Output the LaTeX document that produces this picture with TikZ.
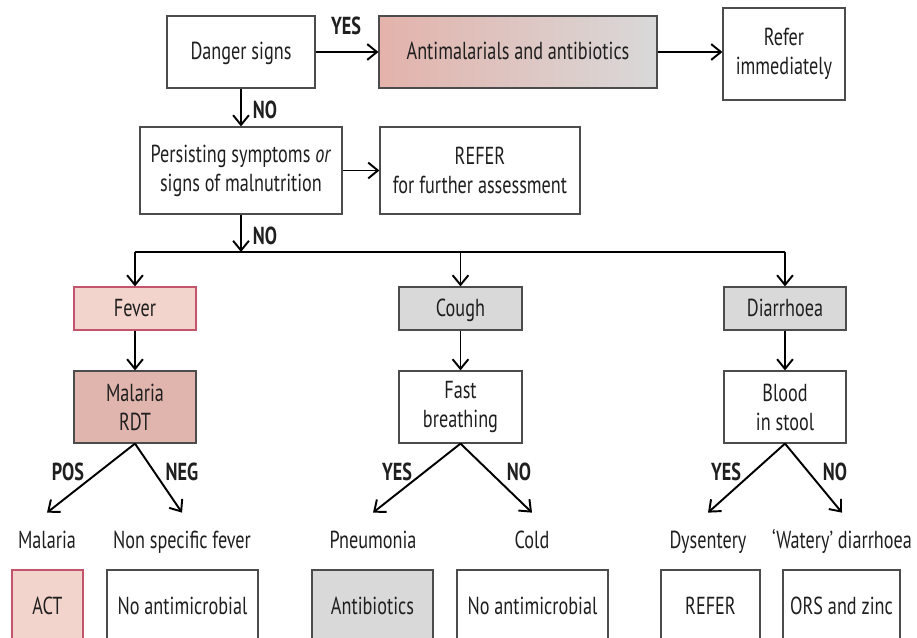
\documentclass[tikz,border=0pt]{standalone}
\usepackage{fontspec}
\setmainfont[FakeStretch=0.74]{PT Sans}
\usetikzlibrary{arrows.meta,calc}
\definecolor{FeverClr}{rgb}{0.95,0.83,0.80}
\definecolor{FeverLineClr}{rgb}{0.76,0.33,0.42}
\definecolor{RdtClr}{rgb}{0.88,0.71,0.68}
\definecolor{AntiClr}{rgb}{0.89,0.70,0.67}
\definecolor{CoughClr}{rgb}{0.85,0.85,0.85}
\definecolor{BoxLineClr}{rgb}{0.3,0.3,0.3}
\definecolor{TextClr}{rgb}{0.12,0.12,0.12}

\begin{document}
\begin{tikzpicture}[x=0.02cm,y=-0.02cm,
  font=\fontsize{14}{16.5}\selectfont,text=TextClr,
  box/.style={draw=BoxLineClr,line width=0.7pt,fill=white,align=center,inner sep=2pt},
  single/.style={text height=12pt,text depth=3pt},
  arr/.style={-{Straight Barb[length=5.5pt,width=9pt]},line width=1.1pt},
  lbl/.style={font=\fontsize{14}{16.5}\selectfont\bfseries},
  outcome/.style={single,minimum height=1.12cm,inner sep=0pt}]
\useasboundingbox (0,0) rectangle (917,638);
\clip (0,0) rectangle (917,638);

\node[box,single,minimum width=2.96cm,minimum height=1.44cm] (danger) at (241,52) {Danger signs};
\node[box,single,left color=AntiClr,right color=CoughClr,minimum width=5.56cm,minimum height=1.44cm] (anti) at (518,52) {Antimalarials and antibiotics};
\node[box,minimum width=2.44cm,minimum height=1.84cm] (refimm) at (784,54) {Refer\\immediately};

\node[box,minimum width=4.04cm,minimum height=1.74cm] (persist) at (241,170.5) {Persisting symptoms \emph{or}\\signs of malnutrition};
\node[box,minimum width=4.0cm,minimum height=1.74cm] (refer) at (480,170.5) {REFER\\for further assessment};

\node[box,single,fill=FeverClr,draw=FeverLineClr,minimum width=2.44cm,minimum height=0.86cm] (fever) at (135,308.5) {Fever};
\node[box,fill=RdtClr,minimum width=2.44cm,minimum height=1.44cm] (rdt) at (135,407) {Malaria\\RDT};
\node[box,single,fill=CoughClr,minimum width=2.46cm,minimum height=0.86cm] (cough) at (460.5,308.5) {Cough};
\node[box,minimum width=2.46cm,minimum height=1.44cm] (fast) at (460.5,407) {Fast\\breathing};
\node[box,single,fill=CoughClr,minimum width=2.44cm,minimum height=0.86cm] (diarr) at (785,308.5) {Diarrhoea};
\node[box,minimum width=2.44cm,minimum height=1.44cm] (blood) at (785,407) {Blood\\in stool};

\node[outcome] (malaria) at (47,541) {Malaria};
\node[outcome] (nsfever) at (182,541) {Non specific fever};
\node[outcome] (pneu) at (373,541) {Pneumonia};
\node[outcome] (cold) at (532,541) {Cold};
\node[outcome] (dysent) at (708,541) {Dysentery};
\node[outcome] (watery) at (842,541) {`Watery' diarrhoea};

\node[box,single,fill=FeverClr,draw=FeverLineClr,minimum width=1.42cm,minimum height=1.48cm] (act) at (47.5,607) {ACT};
\node[box,single,minimum width=3.02cm,minimum height=1.48cm] (noanti) at (182.5,607) {No antimicrobial};
\node[box,single,fill=CoughClr,minimum width=2.42cm,minimum height=1.48cm] (antib) at (372.5,607) {Antibiotics};
\node[box,single,minimum width=3.02cm,minimum height=1.48cm] (noantib) at (532.5,607) {No antimicrobial};
\node[box,single,minimum width=1.98cm,minimum height=1.48cm] (referb) at (710.5,607) {REFER};
\node[box,single,minimum width=2.34cm,minimum height=1.48cm] (ors) at (841.5,607) {ORS and zinc};

\coordinate (bar) at (241,252);
\coordinate (barL) at (fever.north |- bar);
\coordinate (barM) at (cough.north |- bar);
\coordinate (barR) at (diarr.north |- bar);

\draw[arr] (danger) -- (anti);
\draw[arr] (anti.east) -- (anti.east -| refimm.west);
\draw[arr] (danger) -- (persist);
\draw[arr] (persist) -- (refer);
\draw[arr] (persist) -- (bar);
\draw[line width=1.1pt] (barL) -- (barR);
\draw[arr] (barL) -- (fever);
\draw[arr] (barM) -- (cough);
\draw[arr] (barR) -- (diarr);
\draw[arr] (fever) -- (rdt);
\draw[arr] (cough) -- (fast);
\draw[arr] (diarr) -- (blood);

\draw[arr] (rdt.south) -- (malaria.north);
\draw[arr] (rdt.south) -- (nsfever.north);
\draw[arr] (fast.south) -- (pneu.north);
\draw[arr] (fast.south) -- (cold.north);
\draw[arr] (blood.south) -- (dysent.north);
\draw[arr] (blood.south) -- (watery.north);

\node[lbl] (yes1) at (346,26) {YES};
\node[lbl] (no1) at (265,110) {NO};
\node[lbl] (no2) at (265,236) {NO};
\node[lbl] (pos) at (68,472) {POS};
\node[lbl] (neg) at (182,472) {NEG};
\node[lbl] (yes2) at (397,472) {YES};
\node[lbl] (no3) at (519,472) {NO};
\node[lbl] (yes3) at (726,472) {YES};
\node[lbl] (no4) at (835,472) {NO};

\end{tikzpicture}
\end{document}
